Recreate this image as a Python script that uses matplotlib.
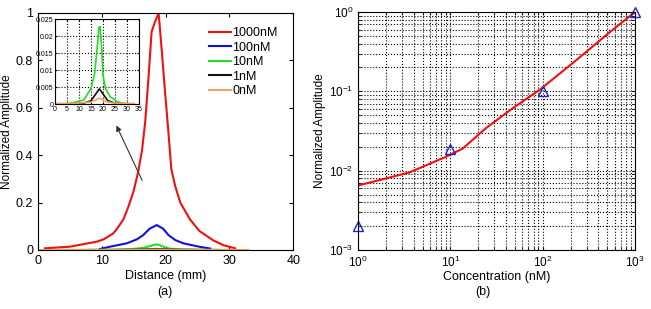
import numpy as np
import matplotlib.pyplot as plt
from matplotlib.ticker import LogLocator, NullFormatter

plt.rcParams['font.family'] = ['Liberation Sans', 'DejaVu Sans']

# panel (a): profiles along distance
x_1000 = [1.1, 5, 9.2, 10.3, 11.8, 12.4, 13.4, 14.2, 15.0, 15.7, 16.3, 16.8, 17.3, 17.8, 18.3, 18.9,
          19.4, 19.9, 20.4, 20.9, 21.5, 22.3, 23.8, 25.3, 27.5, 29.1, 30.9]
y_1000 = [0.007, 0.014, 0.035, 0.045, 0.07, 0.09, 0.13, 0.185, 0.25, 0.33, 0.42, 0.54, 0.72, 0.92, 0.96, 1.0,
          0.84, 0.67, 0.51, 0.34, 0.27, 0.2, 0.13, 0.08, 0.04, 0.02, 0.007]
x_100 = [9.7, 11.3, 13.9, 15.5, 16.5, 17.5, 18.6, 19.6, 20.45, 21.5, 22.8, 25.4, 27]
y_100 = [0.004, 0.014, 0.028, 0.045, 0.063, 0.09, 0.105, 0.09, 0.063, 0.042, 0.028, 0.013, 0.006]
x_10 = [5, 8, 12, 15, 16.5, 17.5, 18.3, 18.8, 19.5, 20, 21, 23, 26, 29, 31]
y_10 = [0.0002, 0.0005, 0.0012, 0.0046, 0.009, 0.016, 0.0225, 0.0228, 0.016, 0.0086, 0.0046, 0.0022, 0.0007, 0.0002, 0.0001]
x_1 = [8, 12, 15, 17, 18.5, 20, 22, 25, 28]
y_1 = [0.0001, 0.0003, 0.001, 0.003, 0.0045, 0.003, 0.001, 0.0003, 0.0001]
x_0 = [0, 5, 10, 15, 17, 18.5, 20, 22, 25, 30, 33]
y_0 = [0.0002, 0.0002, 0.0003, 0.0006, 0.0012, 0.0018, 0.0012, 0.0006, 0.0003, 0.0002, 0.0002]

# panel (b): amplitude vs concentration
conc = [1, 10, 100, 1000]
amp = [0.002, 0.019, 0.1, 1.0]
fit_x = [1, 3.6, 9, 13.6, 24, 48, 93, 214, 535, 1000]
fit_y = [0.0065, 0.0095, 0.015, 0.019, 0.034, 0.062, 0.105, 0.23, 0.56, 1.0]

colors = ['#ee1111', '#1111dd', '#22dd22', '#111111', '#f4a460']
labels = ['1000nM', '100nM', '10nM', '1nM', '0nM']
series = [(x_1000, y_1000), (x_100, y_100), (x_10, y_10), (x_1, y_1), (x_0, y_0)]

fig = plt.figure(figsize=(6.51, 3.09), dpi=100)

ax = fig.add_axes([0.0584, 0.191, 0.392, 0.767])
for (xs, ys), c, lab in zip(series, colors, labels):
    ax.plot(xs, ys, color=c, lw=1.5, label=lab)
ax.set_xlim(0, 40)
ax.set_ylim(0, 1)
ax.set_xticks([0, 10, 20, 30, 40])
ax.set_yticks([0, 0.2, 0.4, 0.6, 0.8, 1])
ax.set_yticklabels(['0', '0.2', '0.4', '0.6', '0.8', '1'])
ax.tick_params(direction='in', top=True, right=True, labelsize=9, length=3)
ax.set_xlabel('Distance (mm)', fontsize=9, labelpad=2)
ax.set_ylabel('Normalized Amplitude', fontsize=8.5, labelpad=2)
ax.legend(loc='upper right', frameon=False, fontsize=9, handlelength=1.75,
          handletextpad=0.1, labelspacing=0.2, bbox_to_anchor=(0.984, 0.987))
ax.annotate('', xy=(12.1, 0.536), xytext=(16.5, 0.283),
            arrowprops=dict(arrowstyle='-|>', color='#333333', lw=0.8, mutation_scale=8))

ins = fig.add_axes([0.0845, 0.663, 0.129, 0.275])
for (xs, ys), c in list(zip(series, colors))[2:]:
    ins.plot(xs, ys, color=c, lw=1.2)
ins.set_xlim(0, 35)
ins.set_ylim(0, 0.025)
ins.set_xticks(range(0, 36, 5))
ins.set_yticks([0, 0.005, 0.01, 0.015, 0.02, 0.025])
ins.set_yticklabels(['0', '0.005', '0.01', '0.015', '0.02', '0.025'])
ins.tick_params(direction='in', top=True, right=True, labelsize=5, length=1.5, pad=1)
ins.grid(True, color='black', linestyle=':', linewidth=0.8)

ax2 = fig.add_axes([0.55, 0.191, 0.4255, 0.770])
ax2.plot(fit_x, fit_y, color='#ee1111', lw=1.5)
ax2.plot(conc, amp, linestyle='none', marker='^', markersize=6.5,
         markerfacecolor='none', markeredgecolor='#2222cc', markeredgewidth=1, clip_on=False)
ax2.set_xscale('log')
ax2.set_yscale('log')
ax2.set_xlim(1, 1000)
ax2.set_ylim(1e-3, 1)
ax2.xaxis.set_minor_locator(LogLocator(base=10, subs=np.arange(2, 10)))
ax2.yaxis.set_minor_locator(LogLocator(base=10, subs=np.arange(2, 10)))
ax2.xaxis.set_minor_formatter(NullFormatter())
ax2.yaxis.set_minor_formatter(NullFormatter())
ax2.grid(True, which='both', color='black', linestyle=':', linewidth=0.8)
ax2.tick_params(which='both', direction='in', top=True, right=True, labelsize=8.5, length=2)
ax2.set_xlabel('Concentration (nM)', fontsize=9, labelpad=1)
ax2.set_ylabel('Normalized Amplitude', fontsize=8.5, labelpad=2)

fig.text(0.253, 0.055, '(a)', ha='center', va='center', fontsize=9)
fig.text(0.742, 0.055, '(b)', ha='center', va='center', fontsize=9)

fig.savefig('out.png', dpi=100)
